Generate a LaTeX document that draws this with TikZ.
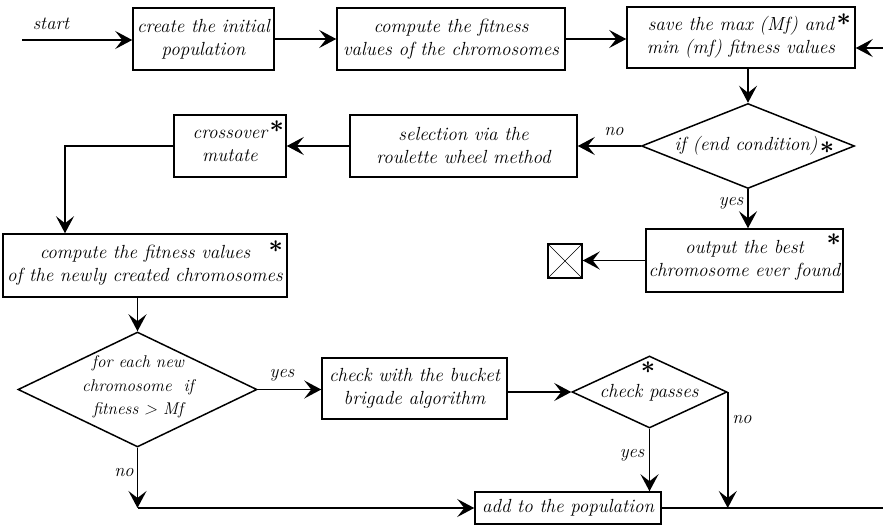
\documentclass[tikz,border=0pt]{standalone}
\usepackage{fontspec}
\usetikzlibrary{shapes.geometric,arrows.meta,calc}
\begin{document}
\begin{tikzpicture}[x=1pt,y=-1pt,
 every node/.style={font=\fontsize{19}{23}\selectfont\itshape},
 box/.style={draw,line width=1.5pt,inner sep=2pt,align=center},
 dia/.style={draw,shape=diamond,line width=1.5pt,inner sep=0pt,aspect=2.5},
 arr/.style={line width=1.5pt,-{Stealth[length=17pt,width=18pt,inset=7pt]}},
 lbl/.style={font=\fontsize{18.5}{20}\selectfont\itshape,inner sep=1pt},
 starmk/.style={font=\mathversion{bold}\fontsize{23}{23}\selectfont,inner sep=0pt}]
\useasboundingbox (0,0) rectangle (883,526);
\clip (0,0) rectangle (883,526);
% boxes
\node[box,minimum width=141pt,minimum height=62pt] (b1) at (203.5,39) {create the initial\\population};
\node[box,minimum width=228pt,minimum height=62pt] (b2) at (451,39) {compute the fitness\\values of the chromosomes};
\node[box,minimum width=228pt,minimum height=61pt] (b3) at (741,37.5) {save the max (Mf) and\\min (mf) fitness values};
\node[dia,minimum width=213pt,minimum height=85pt] (d1) at (748,146) {};
\node (t1) at (746,146) {if (end condition)};
\node[box,minimum width=227pt,minimum height=62pt] (sel) at (463.5,146) {selection via the\\roulette wheel method};
\node[box,minimum width=112pt,minimum height=62pt] (cross) at (230,146) {crossover\\mutate};
\node[box,minimum width=284pt,minimum height=63pt] (b4) at (145,265.5) {compute the fitness values\\of the newly created chromosomes};
\node[box,minimum width=197pt,minimum height=63pt] (out) at (744.5,260.5) {output the best\\chromosome ever found};
\node[draw,line width=1.5pt,minimum size=34pt,inner sep=0pt] (term) at (565,261) {};
\node[dia,minimum width=239pt,minimum height=115pt] (d2) at (137.5,389.5) {};
\node[align=center,inner sep=0pt,font=\fontsize{17}{23.5}\selectfont\itshape] (t2) at (138,387) {for each new\\chromosome\ \ if\\fitness > Mf};
\node[box,minimum width=185pt,minimum height=61pt] (chk) at (414.5,388.5) {check with the bucket\\brigade algorithm};
\node[dia,minimum width=155pt,minimum height=72pt] (d3) at (649.5,392) {};
\node (t3) at (649,393) {check passes};
\node[box,minimum width=186pt,minimum height=32pt] (add) at (568,508) {add to the population};
% stars
\coordinate (p1) at ($(b3.north east)+(-12,13)$);
\coordinate (p3) at ($(cross.north east)+(-10,12)$);
\coordinate (p4) at ($(b4.north east)+(-12,13)$);
\coordinate (p5) at ($(out.north east)+(-10,11)$);
\node[starmk] (s1) at (p1) {$\ast$};
\node[starmk] (s2) at (827,148) {$\ast$};
\node[starmk] (s3) at (p3) {$\ast$};
\node[starmk] (s4) at (p4) {$\ast$};
\node[starmk] (s5) at (p5) {$\ast$};
\node[starmk] (s6) at (648,368) {$\ast$};
% terminal cross
\draw[line width=0.5pt] (term.north west) -- (term.south east) (term.north east) -- (term.south west);
% coordinates
\coordinate (st) at (22,40);
\coordinate (k) at (65,147);
\coordinate (rb) at (900,509);
\coordinate (rt) at (900,48);
\coordinate (c1) at (d2.south |- add.west);
% connectors
\draw[arr] (st) -- (st -| b1.west);
\draw[arr] (b1.east) -- (b2.west);
\draw[arr] (b2.east) -- (b2.east -| b3.west);
\draw[arr] (d1.north |- b3.south) -- (d1.north);
\draw[arr] (d1.west) -- (d1.west -| sel.east);
\draw[arr] (d1.south) -- (d1.south |- out.north);
\draw[arr] (out.west) -- (out.west -| term.east);
\draw[arr] (sel.west) -- (cross.east);
\draw[arr] (cross.west) -- (cross.west -| k) -- (k |- b4.north);
\draw[arr] (b4.south -| d2.north) -- (d2.north);
\draw[arr] (d2.east) -- (d2.east -| chk.west);
\draw[arr] (chk.east |- d3.west) -- (d3.west);
\draw[arr] (d3.south) -- (d3.south |- add.north);
\draw[arr] (d3.east) -- (d3.east |- add.east);
\draw[arr] (d2.south) -- (c1);
\draw[arr] (c1) -- (add.west);
\draw[arr] (add.east) -- (rb |- add.east) -- (rt) -- (rt -| b3.east);
% labels
\node[lbl] (l0) at (51,24) {start};
\node[lbl] (l1) at (614,132) {no};
\node[lbl] (l2) at (731,203) {yes};
\node[lbl] (l3) at (282,375) {yes};
\node[lbl] (l4) at (124,473) {no};
\node[lbl] (l5) at (632,455) {yes};
\node[lbl] (l6) at (742,420) {no};
\end{tikzpicture}
\end{document}
